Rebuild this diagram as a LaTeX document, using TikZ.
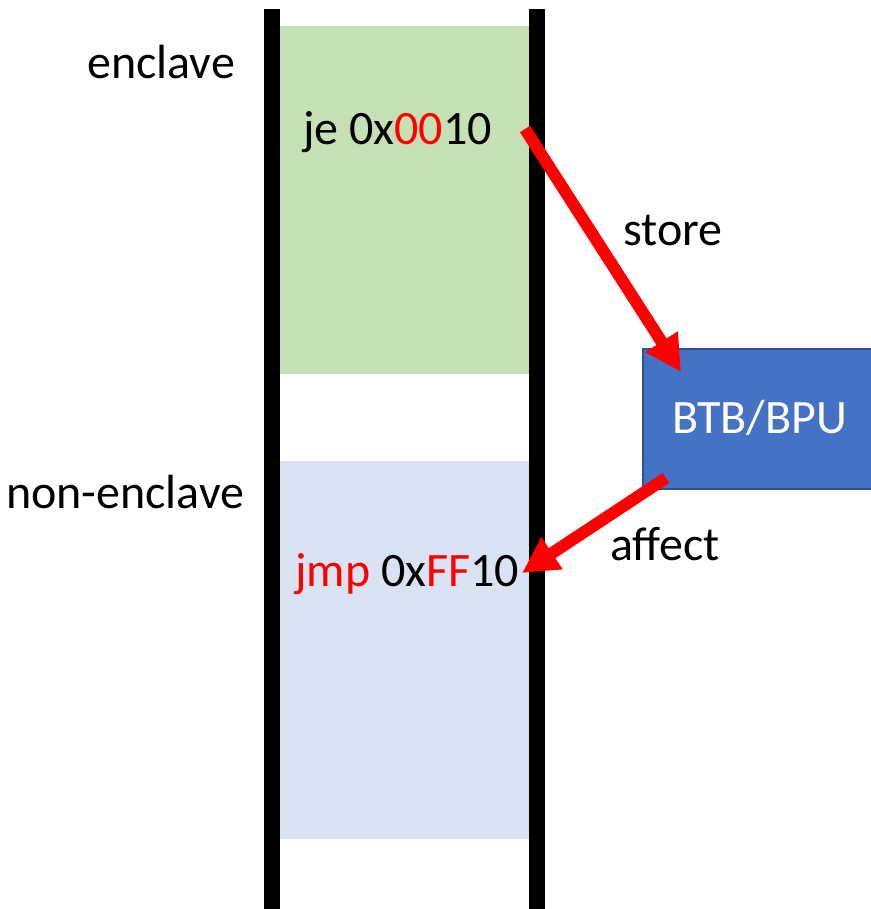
\documentclass[tikz,border=0pt]{standalone}
\usepackage{fontspec}
\setmainfont{Carlito}
\usetikzlibrary{arrows.meta}
\definecolor{encgreen}{HTML}{C5E0B4}
\definecolor{nonblue}{HTML}{DAE3F3}
\definecolor{btbfill}{HTML}{4472C4}
\definecolor{btbdraw}{HTML}{2F528F}
\definecolor{arrred}{HTML}{FF0000}
\begin{document}
\begin{tikzpicture}[x=1pt,y=-1pt,
  lbl/.style={inner sep=0pt,anchor=base west,font=\fontsize{48}{57}\selectfont},
  wall/.style={line width=16pt,black},
  redarrow/.style={line width=12pt,arrred,-{Triangle[width=36pt,length=36pt]}}]
\useasboundingbox (0,0) rectangle (870,909);
% regions
\fill[encgreen] (280,26) rectangle (530,374);
\fill[nonblue] (280,461) rectangle (530,839);
% walls
\draw[wall] (272,9) -- (272,909);
\draw[wall] (537,9) -- (537,909);
% BTB box
\node[draw=btbdraw,fill=btbfill,line width=2pt,minimum width=230pt,minimum height=140pt,anchor=north west,inner sep=0pt] (btb) at (642,348) {};
\node[lbl,text=white] (btbt) at (672,433) {BTB/BPU};
% labels
\node[lbl] (enc) at (87,79) {enclave};
\node[lbl] (nonenc) at (6,508) {non-enclave};
\node[lbl] (je) at (303,145) {je 0x\textcolor{arrred}{00}10};
\node[lbl] (jmp) at (295,586) {\textcolor{arrred}{jmp} 0x\textcolor{arrred}{FF}10};
\node[lbl] (store) at (623,245) {store};
\node[lbl] (affect) at (610,560) {affect};
% arrows
\coordinate (s1) at (525,129);
\coordinate (t1) at (681,372);
\coordinate (s2) at (666,478);
\coordinate (t2) at (522,573);
\draw[redarrow] (s1) -- (t1);
\draw[redarrow] (s2) -- (t2);
\end{tikzpicture}
\end{document}
